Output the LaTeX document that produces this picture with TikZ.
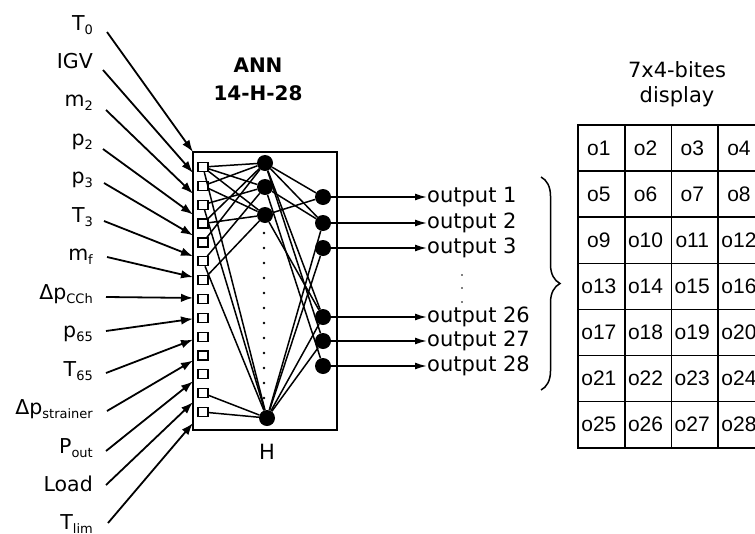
\documentclass[tikz,border=0pt]{standalone}
\usepackage{fontspec}
\setmainfont{DejaVu Sans}
\newfontfamily\arialf{Liberation Sans}
\usetikzlibrary{arrows.meta,decorations.pathreplacing}
\newcommand{\sbx}[1]{\raisebox{-4pt}{\fontsize{13}{13}\selectfont #1}}
\begin{document}
\begin{tikzpicture}[x=1pt,y=-1pt,
  lab/.style={anchor=base east, inner sep=0pt, font=\fontsize{20.5}{24}\selectfont},
  inarrow/.style={line width=1.8pt, -{Latex[length=12pt,width=8.5pt]}},
  outarrow/.style={line width=1.7pt, -{Latex[length=12pt,width=7pt]}},
  sq/.style={draw, fill=white, line width=1.2pt, minimum width=10pt, minimum height=9pt, inner sep=0pt},
  neuron/.style={circle, fill=black, minimum size=16pt, inner sep=0pt},
  conn/.style={line width=1.5pt},
  outtxt/.style={anchor=west, inner sep=0pt, font=\fontsize{21}{24}\selectfont},
  cell/.style={draw, line width=1.6pt, minimum width=46.7pt, minimum height=46.1pt, inner sep=0pt, font=\arialf\fontsize{21}{24}\selectfont},
]
\clip (0,0) rectangle (755,533);
\fill[white] (0,0) rectangle (755,533);

% input labels
\foreach \t [count=\i from 0] in {{T\sbx{0}},{IGV},{m\sbx{2}},{p\sbx{2}},{p\sbx{3}},{T\sbx{3}},{m\sbx{f}},{Δp\sbx{CCh}},{p\sbx{65}},{T\sbx{65}},{Δp\sbx{strainer}},{P\sbx{out}},{Load},{T\sbx{lim}}}
  \node[lab] (L\i) at (93, 30+38.46*\i) {\t};

% ANN box
\node[draw, line width=1.6pt, minimum width=144pt, minimum height=278pt, inner sep=0pt] (box) at (265,291) {};

% input arrows
\foreach \sx/\sy [count=\i from 0] in {107/32,103/70,106/110,103/149,104/183,104/221,107/257,106/297,106/331,106/373,107/411,106/451,106/485,108/523}{
  \coordinate (S\i) at (\sx,\sy);
  \coordinate (E\i) at (193, 152+20.85*\i);
  \draw[inarrow] (S\i) -- (E\i);
}

% input squares
\foreach \i in {0,...,13}
  \node[sq] (Q\i) at (203, 167+18.85*\i) {};

% hidden neurons
\node[neuron] (H1) at (265,163) {};
\node[neuron] (H2) at (265,187) {};
\node[neuron] (H3) at (265,215) {};
\node[neuron] (HB) at (267,418) {};
\foreach \k in {0,...,11}
  \fill (264, 233+15*\k) circle (1.4);

% output neurons
\foreach \y [count=\k] in {197,223,248,317,341,366}
  \node[neuron] (O\k) at (323,\y) {};

% input -> hidden
\foreach \a/\b in {Q0/H1,Q0/H2,Q0/H3,Q0/HB,Q1/H1,Q1/H3,Q2/H2,Q2/HB,Q3/H1,Q3/H3,Q4/H1,Q5/H2,Q5/HB,Q6/H3,Q12/HB,Q13/HB}
  \draw[conn] (\a) -- (\b);

% hidden -> output
\foreach \a/\b in {H1/O1,H1/O2,H1/O4,H1/O5,H2/O2,H2/O6,H3/O1,H3/O4,HB/O2,HB/O3,HB/O4,HB/O5}
  \draw[conn] (\a) -- (\b);

% output labels and arrows
\foreach \y/\n [count=\k] in {197/1,223/2,248/3,317/26,341/27,366/28}{
  \node[outtxt] (T\k) at (427,\y) {output \n};
  \draw[outarrow] (O\k) -- (T\k.west);
}
\foreach \y in {275,288,302}
  \fill (462,\y) circle (0.9);

% brace
\draw[line width=1.5pt, decorate, decoration={brace, amplitude=19pt}] (541,177) -- (541,390);

% titles
\node[font=\bfseries\fontsize{20}{24}\selectfont] (ann) at (258,65) {ANN};
\node[font=\bfseries\fontsize{20}{24}\selectfont] (code) at (258,93) {14-H-28};
\node[font=\fontsize{21}{24}\selectfont] (hl) at (267,452) {H};
\node[font=\fontsize{21}{24}\selectfont] (tt1) at (677,70) {7x4-bites};
\node[font=\fontsize{21}{24}\selectfont] (tt2) at (677,97) {display};

% table
\foreach \r in {0,...,6}
  \foreach \c in {0,...,3}{
    \pgfmathtruncatemacro{\n}{4*\r+\c+1}
    \node[cell] (C\n) at (578+46.7*\c+23.35, 125+46.1*\r+23.05) {o\n\hspace*{5pt}};
  }
\end{tikzpicture}
\end{document}
